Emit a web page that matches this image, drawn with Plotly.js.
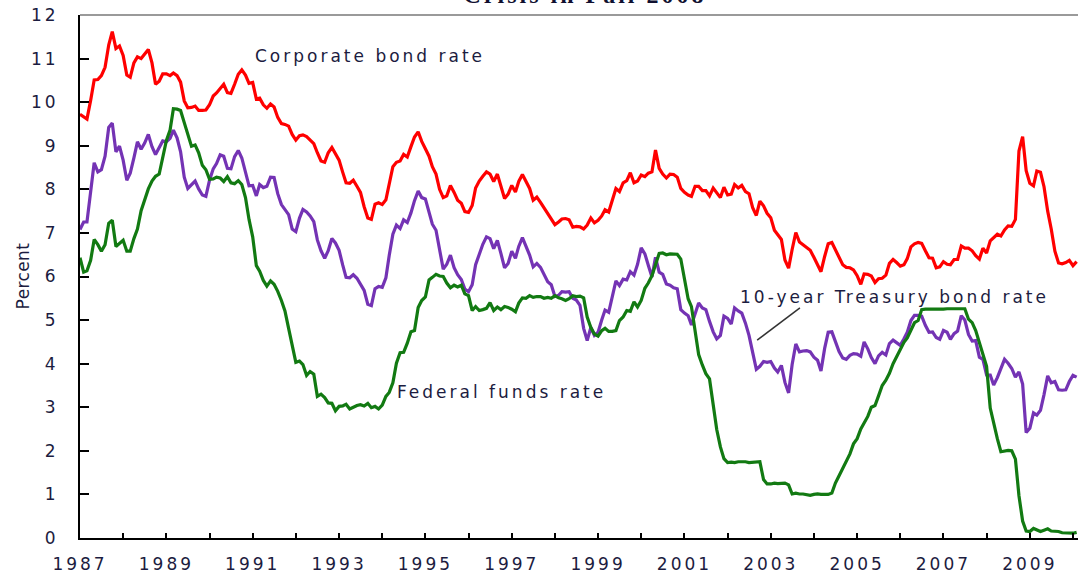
<!DOCTYPE html>
<html>
<head>
<meta charset="utf-8">
<script src="https://cdn.plot.ly/plotly-3.0.1.min.js"></script>
<style>
  html, body { margin: 0; padding: 0; background: #fff; overflow: hidden; width: 1078px; height: 575px; }
  #chart { width: 1100px; height: 575px; }
  .xtick text, .ytick text, .annotation-text { letter-spacing: 3px; }
  .annotation[data-index="3"] .annotation-text { letter-spacing: 0.4px; }
  .gtitle { letter-spacing: 3px; }
</style>
</head>
<body>
<div id="chart"></div>
<script>
// Monthly observations, January 1987 through February 2010
const startYear = 1987;
const startMonth = 1;

// Corporate bond rate (percent)
const corporateBond = [
  9.72, 9.65, 9.61, 10.04, 10.51, 10.52, 10.61, 10.80, 11.31, 11.62, 11.23, 11.29,
  11.07, 10.62, 10.57, 10.90, 11.04, 11.00, 11.11, 11.21, 10.90, 10.41, 10.48, 10.65,
  10.65, 10.61, 10.67, 10.61, 10.46, 10.03, 9.87, 9.88, 9.91, 9.81, 9.81, 9.82,
  9.94, 10.14, 10.21, 10.30, 10.41, 10.22, 10.20, 10.41, 10.64, 10.74, 10.62, 10.43,
  10.45, 10.07, 10.09, 9.94, 9.86, 9.96, 9.89, 9.65, 9.51, 9.49, 9.45, 9.26,
  9.13, 9.23, 9.25, 9.21, 9.13, 9.05, 8.84, 8.65, 8.62, 8.84, 8.96, 8.81,
  8.67, 8.39, 8.15, 8.14, 8.21, 8.07, 7.93, 7.60, 7.34, 7.31, 7.66, 7.69,
  7.65, 7.76, 8.13, 8.52, 8.62, 8.65, 8.80, 8.74, 8.98, 9.20, 9.32, 9.10,
  8.93, 8.76, 8.52, 8.35, 8.00, 7.81, 7.85, 8.09, 7.93, 7.75, 7.68, 7.49,
  7.47, 7.63, 8.03, 8.19, 8.30, 8.40, 8.35, 8.18, 8.35, 8.07, 7.79, 7.89,
  8.09, 7.94, 8.18, 8.34, 8.20, 8.02, 7.75, 7.82, 7.70, 7.57, 7.42, 7.32,
  7.19, 7.25, 7.32, 7.33, 7.30, 7.13, 7.15, 7.14, 7.09, 7.18, 7.34, 7.23,
  7.29, 7.39, 7.53, 7.48, 7.72, 8.02, 7.95, 8.15, 8.20, 8.38, 8.15, 8.19,
  8.33, 8.29, 8.37, 8.40, 8.90, 8.48, 8.35, 8.26, 8.35, 8.34, 8.28, 8.02,
  7.93, 7.87, 7.84, 8.07, 8.07, 7.97, 7.97, 7.85, 8.03, 7.91, 7.81, 8.05,
  7.87, 7.89, 8.11, 8.03, 8.09, 7.95, 7.90, 7.58, 7.40, 7.73, 7.62, 7.45,
  7.35, 7.06, 6.95, 6.85, 6.38, 6.19, 6.62, 7.01, 6.79, 6.73, 6.66, 6.60,
  6.44, 6.27, 6.11, 6.46, 6.75, 6.78, 6.62, 6.46, 6.27, 6.21, 6.20, 6.15,
  6.02, 5.82, 6.06, 6.05, 6.01, 5.86, 5.95, 5.96, 6.03, 6.30, 6.39, 6.32,
  6.24, 6.27, 6.41, 6.68, 6.75, 6.78, 6.76, 6.59, 6.43, 6.42, 6.20, 6.22,
  6.34, 6.28, 6.27, 6.39, 6.39, 6.70, 6.65, 6.65, 6.59, 6.48, 6.40, 6.65,
  6.54, 6.82, 6.89, 6.97, 6.93, 7.07, 7.16, 7.15, 7.31, 8.88, 9.21, 8.43,
  8.14, 8.08, 8.42, 8.39, 8.06, 7.50, 7.09, 6.58, 6.31, 6.29, 6.32, 6.37,
  6.25, 6.34
];

// 10-year Treasury bond rate (percent)
const treasury10y = [
  7.08, 7.25, 7.25, 8.02, 8.61, 8.40, 8.45, 8.76, 9.42, 9.52, 8.86, 8.99,
  8.67, 8.21, 8.37, 8.72, 9.09, 8.92, 9.06, 9.26, 8.98, 8.80, 8.96, 9.11,
  9.09, 9.17, 9.36, 9.18, 8.86, 8.28, 8.02, 8.11, 8.19, 8.01, 7.87, 7.84,
  8.21, 8.47, 8.59, 8.79, 8.76, 8.48, 8.47, 8.75, 8.89, 8.72, 8.39, 8.08,
  8.09, 7.85, 8.11, 8.04, 8.07, 8.28, 8.27, 7.90, 7.65, 7.53, 7.42, 7.09,
  7.03, 7.34, 7.54, 7.48, 7.39, 7.26, 6.84, 6.59, 6.42, 6.59, 6.87, 6.77,
  6.60, 6.26, 5.98, 5.97, 6.04, 5.96, 5.81, 5.68, 5.36, 5.33, 5.72, 5.77,
  5.75, 5.97, 6.48, 6.97, 7.18, 7.10, 7.30, 7.24, 7.46, 7.74, 7.96, 7.81,
  7.78, 7.47, 7.20, 7.06, 6.63, 6.17, 6.28, 6.49, 6.20, 6.04, 5.93, 5.71,
  5.65, 5.81, 6.27, 6.51, 6.74, 6.91, 6.87, 6.64, 6.83, 6.53, 6.20, 6.30,
  6.58, 6.42, 6.69, 6.89, 6.71, 6.49, 6.22, 6.30, 6.21, 6.03, 5.88, 5.81,
  5.54, 5.57, 5.65, 5.64, 5.65, 5.50, 5.46, 5.34, 4.81, 4.53, 4.83, 4.65,
  4.72, 5.00, 5.23, 5.18, 5.54, 5.90, 5.79, 5.94, 5.92, 6.11, 6.03, 6.28,
  6.66, 6.52, 6.26, 5.99, 6.44, 6.10, 6.05, 5.83, 5.80, 5.74, 5.72, 5.24,
  5.16, 5.10, 4.89, 5.14, 5.39, 5.28, 5.24, 4.97, 4.73, 4.57, 4.65, 5.09,
  5.04, 4.91, 5.28, 5.21, 5.16, 4.93, 4.65, 4.26, 3.87, 3.94, 4.05, 4.03,
  4.05, 3.90, 3.81, 3.96, 3.57, 3.33, 3.98, 4.45, 4.27, 4.29, 4.30, 4.27,
  4.15, 4.08, 3.83, 4.35, 4.72, 4.73, 4.50, 4.28, 4.13, 4.10, 4.19, 4.23,
  4.22, 4.17, 4.50, 4.34, 4.14, 4.00, 4.18, 4.26, 4.20, 4.46, 4.54, 4.47,
  4.42, 4.57, 4.72, 4.99, 5.11, 5.11, 5.09, 4.88, 4.72, 4.73, 4.60, 4.56,
  4.76, 4.72, 4.56, 4.69, 4.75, 5.10, 5.00, 4.67, 4.52, 4.53, 4.15, 4.10,
  3.74, 3.74, 3.51, 3.68, 3.88, 4.10, 4.01, 3.89, 3.69, 3.81, 3.53, 2.42,
  2.52, 2.87, 2.82, 2.93, 3.29, 3.72, 3.56, 3.59, 3.40, 3.39, 3.40, 3.59,
  3.73, 3.69
];

// Federal funds rate (percent)
const fedFunds = [
  6.43, 6.10, 6.13, 6.37, 6.85, 6.73, 6.58, 6.73, 7.22, 7.29, 6.69, 6.77,
  6.83, 6.58, 6.58, 6.87, 7.09, 7.51, 7.75, 8.01, 8.19, 8.30, 8.35, 8.76,
  9.12, 9.36, 9.85, 9.84, 9.81, 9.53, 9.24, 8.99, 9.02, 8.84, 8.55, 8.45,
  8.23, 8.24, 8.28, 8.26, 8.18, 8.29, 8.15, 8.13, 8.20, 8.11, 7.81, 7.31,
  6.91, 6.25, 6.12, 5.91, 5.78, 5.90, 5.82, 5.66, 5.45, 5.21, 4.81, 4.43,
  4.03, 4.06, 3.98, 3.73, 3.82, 3.76, 3.25, 3.30, 3.22, 3.10, 3.09, 2.92,
  3.02, 3.03, 3.07, 2.96, 3.00, 3.04, 3.06, 3.03, 3.09, 2.99, 3.02, 2.96,
  3.05, 3.25, 3.34, 3.56, 4.01, 4.25, 4.26, 4.47, 4.73, 4.76, 5.29, 5.45,
  5.53, 5.92, 5.98, 6.05, 6.01, 6.00, 5.85, 5.74, 5.80, 5.76, 5.80, 5.60,
  5.56, 5.22, 5.31, 5.22, 5.24, 5.27, 5.40, 5.22, 5.30, 5.24, 5.31, 5.29,
  5.25, 5.19, 5.39, 5.51, 5.50, 5.56, 5.52, 5.54, 5.54, 5.50, 5.52, 5.50,
  5.56, 5.51, 5.49, 5.45, 5.49, 5.56, 5.54, 5.55, 5.51, 5.07, 4.83, 4.68,
  4.63, 4.76, 4.81, 4.74, 4.74, 4.76, 4.99, 5.07, 5.22, 5.20, 5.42, 5.30,
  5.45, 5.73, 5.85, 6.02, 6.27, 6.53, 6.54, 6.50, 6.52, 6.51, 6.51, 6.40,
  5.98, 5.49, 5.31, 4.80, 4.21, 3.97, 3.77, 3.65, 3.07, 2.49, 2.09, 1.82,
  1.73, 1.74, 1.73, 1.75, 1.75, 1.75, 1.73, 1.74, 1.75, 1.75, 1.34, 1.24,
  1.24, 1.26, 1.25, 1.26, 1.26, 1.22, 1.01, 1.03, 1.01, 1.01, 1.00, 0.98,
  1.00, 1.01, 1.00, 1.00, 1.00, 1.03, 1.26, 1.43, 1.61, 1.76, 1.93, 2.16,
  2.28, 2.50, 2.63, 2.79, 3.00, 3.04, 3.26, 3.50, 3.62, 3.78, 4.00, 4.16,
  4.29, 4.49, 4.59, 4.79, 4.94, 4.99, 5.24, 5.25, 5.25, 5.25, 5.25, 5.24,
  5.25, 5.26, 5.26, 5.25, 5.25, 5.25, 5.26, 5.02, 4.94, 4.76, 4.49, 4.24,
  3.94, 2.98, 2.61, 2.28, 1.98, 2.00, 2.01, 2.00, 1.81, 0.97, 0.39, 0.16,
  0.15, 0.22, 0.18, 0.15, 0.18, 0.21, 0.16, 0.16, 0.15, 0.12, 0.12, 0.12,
  0.11, 0.13
];

const seriesNames = ["Corporate bond rate", "10-year Treasury bond rate", "Federal funds rate"];
const seriesColors = ["#ff0000", "#7433b4", "#127a12"];
const titleText = "Crisis in Fall 2008";
const yAxisTitle = "Percent";

// month dates for the time axis
const months = [];
for (let i = 0; i < corporateBond.length; i++) {
  const m = startMonth - 1 + i;
  const y = startYear + Math.floor(m / 12);
  const mm = (m % 12) + 1;
  months.push(y + "-" + (mm < 10 ? "0" + mm : mm) + "-01");
}

const allSeries = [corporateBond, treasury10y, fedFunds];
const traces = allSeries.map((vals, k) => ({
  type: "scatter",
  mode: "lines",
  x: months,
  y: vals,
  name: seriesNames[k],
  line: { color: seriesColors[k], width: 3.2 },
  hoverinfo: "x+y+name"
}));

const labelFont = { family: "DejaVu Sans, Verdana, sans-serif", size: 17, color: "#1c1c40" };

const layout = {
  width: 1100,
  height: 575,
  margin: { l: 80, r: 10, t: 15, b: 37 },
  paper_bgcolor: "#ffffff",
  plot_bgcolor: "#ffffff",
  showlegend: false,
  title: {
    text: titleText,
    font: { family: "Liberation Serif, Times New Roman, serif", size: 24, weight: "bold", color: "#101030" },
    xref: "paper", x: 0.5, xanchor: "center",
    yref: "container", y: 0.995, yanchor: "bottom"
  },
  xaxis: {
    type: "date",
    range: ["1987-01-01", "2010-05-25"],
    tick0: "1987-01-01",
    dtick: "M24",
    tickformat: "%Y",
    ticks: "inside",
    ticklen: 5,
    tickwidth: 2,
    tickcolor: "#000",
    minor: { dtick: "M12", tick0: "1987-01-01", ticks: "inside", ticklen: 5, tickwidth: 2, tickcolor: "#000", showgrid: false },
    showline: true,
    linecolor: "#000",
    linewidth: 2,
    showgrid: false,
    zeroline: false,
    ticklabelstandoff: 10,
    tickfont: labelFont
  },
  yaxis: {
    range: [0, 12],
    dtick: 1,
    ticks: "inside",
    ticklen: 9,
    tickwidth: 2,
    tickcolor: "#000",
    showline: true,
    linecolor: "#000",
    linewidth: 2,
    showgrid: false,
    zeroline: false,
    ticklabelstandoff: 16,
    tickfont: labelFont
  },
  shapes: [
    { type: "line", xref: "paper", yref: "paper", x0: 0, x1: 1, y0: 1, y1: 1, line: { color: "#9a9a9a", width: 2 } },
    { type: "line", xref: "x", yref: "y", x0: "2002-09-08", y0: 4.54, x1: "2003-09-05", y1: 5.28, line: { color: "#333333", width: 1.5 } }
  ],
  annotations: [
    { text: "Corporate bond rate", x: "1991-01-01", y: 11.06, xref: "x", yref: "y", xanchor: "left", yanchor: "middle", showarrow: false, font: labelFont },
    { text: "10-year Treasury bond rate", x: "2002-03-30", y: 5.53, xref: "x", yref: "y", xanchor: "left", yanchor: "middle", showarrow: false, font: labelFont },
    { text: "Federal funds rate", x: "1994-04-20", y: 3.35, xref: "x", yref: "y", xanchor: "left", yanchor: "middle", showarrow: false, font: labelFont },
    { text: yAxisTitle, xref: "paper", yref: "paper", x: 0, y: 0.5, xshift: -58, xanchor: "center", yanchor: "middle", textangle: -90, showarrow: false,
      font: { family: "DejaVu Sans, Verdana, sans-serif", size: 17, color: "#1c1c40" } }
  ]
};

Plotly.newPlot("chart", traces, layout, { displayModeBar: false, staticPlot: true });
</script>
</body>
</html>
